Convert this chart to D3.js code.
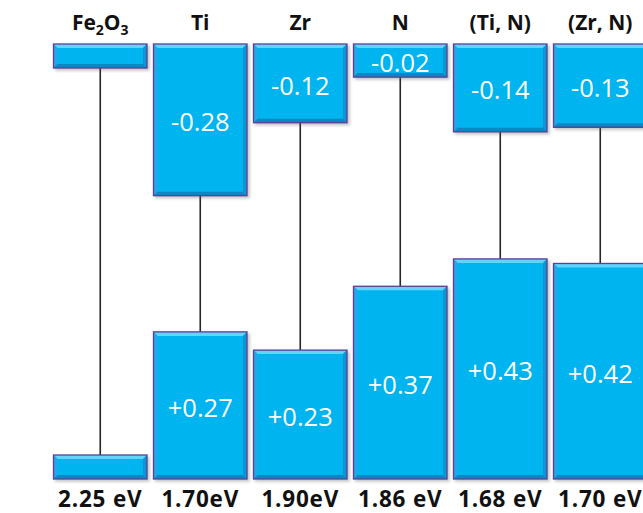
<!DOCTYPE html>
<html>
<head>
<meta charset="utf-8">
<script src="https://cdn.jsdelivr.net/npm/d3@7"></script>
<style>
  html, body { margin: 0; padding: 0; background: #ffffff; }
  svg { display: block; }
</style>
</head>
<body>
<script>
// Band-edge shifts (eV) of doped Fe2O3 relative to the pristine oxide
const materials = ["Fe2O3", "Ti", "Zr", "N", "(Ti, N)", "(Zr, N)"];
const cbShift = [0, -0.28, -0.12, -0.02, -0.14, -0.13];   // conduction band edge
const vbShift = [0, 0.27, 0.23, 0.37, 0.43, 0.42];        // valence band edge
const gapLabels = ["2.25 eV", "1.70eV", "1.90eV", "1.86 eV", "1.68 eV", "1.70 eV"];

const W = 643, H = 513;
const svg = d3.select("body").append("svg").attr("width", W).attr("height", H);

const defs = svg.append("defs");
const shadow = defs.append("filter").attr("id", "shadow")
  .attr("x", "-10%").attr("y", "-10%").attr("width", "130%").attr("height", "130%");
shadow.append("feDropShadow").attr("dx", 2).attr("dy", 2).attr("stdDeviation", 1.4)
  .attr("flood-color", "#555").attr("flood-opacity", 0.35);

const x = d3.scaleBand().domain(materials).range([53.5, 647]).paddingInner(0.065).paddingOuter(0);

// Conduction-band boxes hang from the top line, valence-band boxes stand on the bottom line
const topY = 44, bottomY = 479, slab = 24;
const pxPerEv = 456;
const yCB = d3.scaleLinear().domain([0, -0.3]).range([topY + slab, topY + slab + 0.3 * pxPerEv]);
const yVB = d3.scaleLinear().domain([0, 0.45]).range([bottomY - slab, bottomY - slab - 0.45 * pxPerEv]);

const fmt = v => (v < 0 ? "-" : "+") + Math.abs(v).toFixed(2);
const font = "'Open Sans', 'Noto Sans', sans-serif";

const data = materials.map((m, i) => ({
  m, cb: cbShift[i], vb: vbShift[i], gap: gapLabels[i]
}));

// Connector lines between the two band edges
svg.append("g").selectAll("line").data(data).join("line")
  .attr("x1", d => x(d.m) + x.bandwidth() / 2)
  .attr("x2", d => x(d.m) + x.bandwidth() / 2)
  .attr("y1", d => yCB(d.cb))
  .attr("y2", d => yVB(d.vb))
  .attr("stroke", "#262626").attr("stroke-width", 1.6);

// Bevelled box
function bevelBox(g, bx, by, bw, bh) {
  const b = Math.min(4, bh / 3);
  const box = g.append("g").attr("filter", "url(#shadow)");
  box.append("rect").attr("x", bx).attr("y", by).attr("width", bw).attr("height", bh)
    .attr("fill", "#00b4f0");
  const faces = [
    [[bx, by], [bx + bw, by], [bx + bw - b, by + b], [bx + b, by + b], "#62d3fb"],
    [[bx, by], [bx + b, by + b], [bx + b, by + bh - b], [bx, by + bh], "#27a6e6"],
    [[bx + bw, by], [bx + bw, by + bh], [bx + bw - b, by + bh - b], [bx + bw - b, by + b], "#0a96d2"],
    [[bx, by + bh], [bx + bw, by + bh], [bx + bw - b, by + bh - b], [bx + b, by + bh - b], "#0b86c4"]
  ];
  faces.forEach(f => {
    box.append("polygon").attr("points", f.slice(0, 4).map(p => p.join(",")).join(" "))
      .attr("fill", f[4]);
  });
  box.append("rect").attr("x", bx).attr("y", by).attr("width", bw).attr("height", bh)
    .attr("fill", "none").attr("stroke", "#5b3f98").attr("stroke-width", 1.3);
}

const boxes = svg.append("g");
data.forEach(d => {
  const bx = x(d.m), bw = x.bandwidth();
  // conduction band box
  const cTop = topY, cBot = yCB(d.cb);
  bevelBox(boxes, bx, cTop, bw, cBot - cTop);
  // valence band box
  const vTop = yVB(d.vb);
  bevelBox(boxes, bx, vTop, bw, bottomY - vTop);
});

// Shift labels inside the boxes
const vals = svg.append("g").attr("font-family", font).attr("font-size", 25.5)
  .attr("fill", "#ffffff").attr("text-anchor", "middle");
data.filter(d => d.cb !== 0).forEach(d => {
  vals.append("text")
    .attr("x", x(d.m) + x.bandwidth() / 2)
    .attr("y", (topY + yCB(d.cb)) / 2 + 1.5)
    .attr("dominant-baseline", "central")
    .text(fmt(d.cb));
});
data.filter(d => d.vb !== 0).forEach(d => {
  vals.append("text")
    .attr("x", x(d.m) + x.bandwidth() / 2)
    .attr("y", (yVB(d.vb) + bottomY) / 2 + 1.5)
    .attr("dominant-baseline", "central")
    .text(fmt(d.vb));
});

// Column headers, digits in formulas set as subscripts
const heads = svg.append("g").attr("font-family", font).attr("font-weight", "bold")
  .attr("font-size", 21).attr("fill", "#111").attr("text-anchor", "middle");
data.forEach(d => {
  const t = heads.append("text").attr("x", x(d.m) + x.bandwidth() / 2).attr("y", 30);
  d.m.split(/(\d)/).filter(s => s.length).forEach(s => {
    if (/^\d$/.test(s)) {
      t.append("tspan").attr("font-size", 14).attr("dy", 5).text(s);
    } else {
      const prevSub = t.selectAll("tspan").size() > 0 &&
        /^\d$/.test(t.selectAll("tspan").nodes().slice(-1)[0].textContent);
      t.append("tspan").attr("dy", prevSub ? -5 : 0).text(s);
    }
  });
});

// Band gaps under each column
svg.append("g").attr("font-family", font).attr("font-weight", "bold")
  .attr("font-size", 22.5).attr("letter-spacing", 0.8).attr("fill", "#111").attr("text-anchor", "middle")
  .selectAll("text").data(data).join("text")
  .attr("x", d => x(d.m) + x.bandwidth() / 2)
  .attr("y", 507)
  .text(d => d.gap);
</script>
</body>
</html>
